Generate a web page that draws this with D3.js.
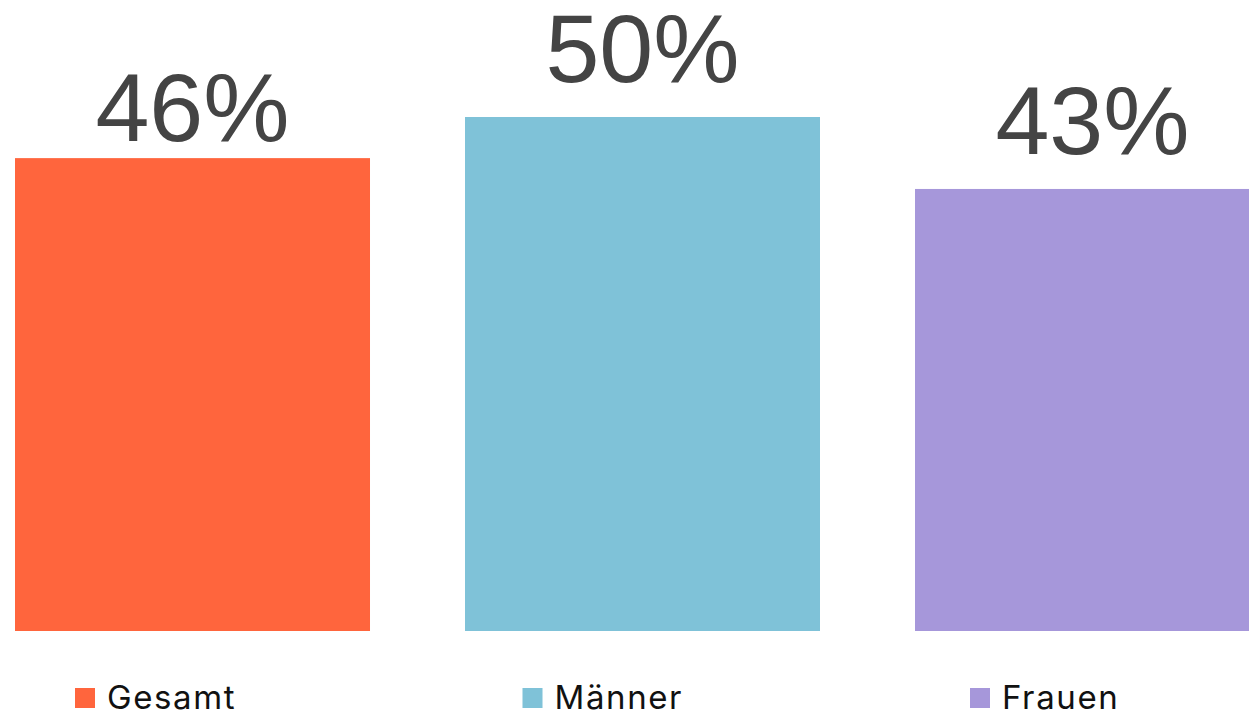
<!DOCTYPE html>
<html>
<head>
<meta charset="utf-8">
<script src="https://cdn.jsdelivr.net/npm/d3@7"></script>
<style>
  body { margin: 0; background: #fff; overflow: hidden; }
</style>
</head>
<body>
<svg id="chart" width="1249" height="715"></svg>
<script>
// data
var categories = ["Gesamt", "Männer", "Frauen"]
var values = [46, 50, 43]
var colors = ["#FF653D", "#7FC2D8", "#A697DA"]

var svg = d3.select("#chart")

// bars run past the right edge, the third one is cut off
var x = d3.scaleBand()
  .domain(categories)
  .range([15, 1270])
  .paddingInner(0.2111)
  .paddingOuter(0)

var y = d3.scaleLinear()
  .domain([0, 100])
  .range([631, -397])

svg.selectAll(".bar")
  .data(categories)
  .enter()
  .append("rect")
  .attr("class", "bar")
  .attr("x", function(d) { return x(d) })
  .attr("width", x.bandwidth())
  .attr("y", function(d, i) { return y(values[i]) })
  .attr("height", function(d, i) { return y(0) - y(values[i]) })
  .attr("fill", function(d, i) { return colors[i] })

// gap between bar top and label baseline (first one sits lower)
var labelGap = [17, 35, 35]

svg.selectAll(".label")
  .data(categories)
  .enter()
  .append("text")
  .attr("class", "label")
  .attr("x", function(d) { return x(d) + x.bandwidth() / 2 })
  .attr("y", function(d, i) { return y(values[i]) - labelGap[i] })
  .attr("text-anchor", "middle")
  .attr("font-family", "Liberation Sans, Arial, sans-serif")
  .attr("font-size", 97)
  .attr("fill", "#444444")
  .text(function(d, i) { return values[i] + "%" })

// legend
var legend = svg.selectAll(".legend")
  .data(categories)
  .enter()
  .append("g")
  .attr("class", "legend")
  .attr("transform", function(d, i) { return "translate(" + (75 + i * 447.5) + ",688)" })

legend.append("rect")
  .attr("width", 20)
  .attr("height", 20)
  .attr("fill", function(d, i) { return colors[i] })

legend.append("text")
  .attr("x", 32)
  .attr("y", 21)
  .attr("font-family", "Inter, sans-serif")
  .attr("font-size", 33)
  .attr("letter-spacing", 1.6)
  .attr("fill", "#111111")
  .text(function(d) { return d })
</script>
</body>
</html>
